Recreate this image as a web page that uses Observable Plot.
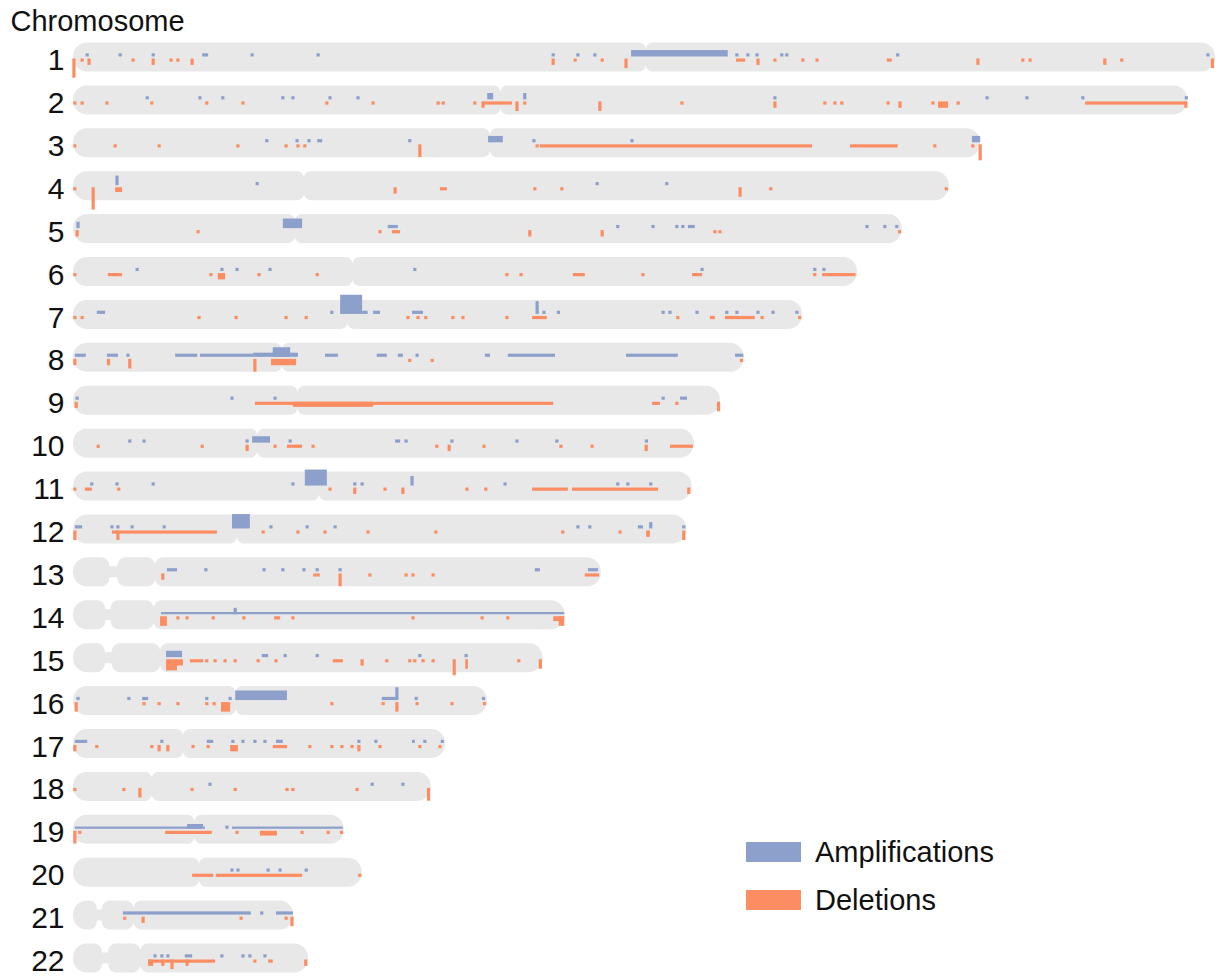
<!DOCTYPE html>
<html>
<head>
<meta charset="utf-8">
<script src="https://cdn.jsdelivr.net/npm/d3@7"></script>
<script src="https://cdn.jsdelivr.net/npm/@observablehq/plot@0.6"></script>
<style>
  body { margin: 0; background: #fff; }
  #wrap { position: relative; width: 1225px; height: 977px; font-family: "Liberation Sans", Arial, sans-serif; }
  #legend { position: absolute; left: 746px; top: 842px; font-size: 29px; color: #111; }
  .item { display: flex; align-items: center; height: 20px; margin-bottom: 28px; }
  .sw { width: 55px; height: 20px; margin-right: 14px; }
</style>
</head>
<body>
<div id="wrap"></div>
<script>
// ---- chromosome layout (Mb) ----
const chromNames = ["1","2","3","4","5","6","7","8","9","10","11","12","13","14","15","16","17","18","19","20","21","22"];
const chromLengths = [249.25,243.2,198.0,191.15,180.9,171.1,159.1,146.4,141.2,135.5,135.0,133.85,115.2,107.3,102.5,90.35,81.2,78.1,59.1,63.0,48.1,51.3];
const centromeres = [125.0,93.3,91.0,50.4,48.4,61.0,59.9,45.6,49.0,40.2,53.7,35.8,17.9,17.6,19.0,35.5,24.0,17.2,26.5,27.5,13.2,14.7];
// p-arm stalk of acrocentric chromosomes [start, end] in Mb
const stalks = [null,null,null,null,null,null,null,null,null,null,null,null,[7.9,9.7],[7.0,8.2],[6.9,8.5],null,null,null,null,null,[5.2,6.3],[6.3,7.7]];

// ---- amplifications: focal [chromosome, position Mb, level] ----
const ampFocal = [
  [1,3.1,1],[1,10.3,1],[1,17.5,1],[1,39.1,1],[1,53.5,1],[1,104.8,1],[1,110.2,1],[1,113.9,1],[1,144.9,1],[1,147.3,1],[1,149.3,1],[1,154.7,1],[1,155.8,1],[1,180.0,1],[1,247.7,1],
  [2,16.2,1],[2,27.7,1],[2,32.7,1],[2,45.8,1],[2,48.0,1],[2,56.1,1],[2,62.2,1],[2,98.6,2],[2,153.2,1],[2,199.5,1],[2,208.2,1],[2,220.4,1],[2,243.0,1],
  [3,42.3,1],[3,48.9,1],[3,51.5,1],[3,73.5,1],[3,100.6,1],[3,122.0,1],
  [4,9.6,3],[4,40.2,1],[4,114.4,1],[4,129.6,1],
  [5,1.1,2],[5,118.9,1],[5,126.6,1],[5,131.8,1],[5,133.1,1],[5,173.3,1],[5,177.2,1],[5,179.8,1],
  [6,14.0,1],[6,32.5,1],[6,35.8,1],[6,43.0,1],[6,74.6,1],[6,137.3,1],[6,161.9,1],[6,163.9,1],
  [7,56.5,1],[7,101.3,4],[7,102.8,1],[7,128.8,1],[7,130.3,1],[7,136.2,1],[7,142.7,1],[7,144.9,1],[7,149.5,1],[7,152.8,1],[7,158.0,1],
  [8,12.0,1],[8,75.1,1],
  [9,0.9,1],[9,34.7,1],[9,44.1,1],[9,128.8,1],
  [10,12.4,1],[10,15.5,1],[10,38.0,1],[10,47.4,1],[10,72.7,1],[10,82.7,1],[10,96.9,1],[10,105.6,1],
  [11,4.1,1],[11,9.6,1],[11,17.5,1],[11,48.0,1],[11,61.5,1],[11,63.1,1],[11,74.0,3],[11,94.3,1],[11,118.9,1],[11,121.1,1],[11,126.1,1],
  [12,8.5,1],[12,9.8,1],[12,12.9,1],[12,19.9,1],[12,43.2,1],[12,51.1,1],[12,57.2,1],[12,110.2,1],[12,112.8,1],[12,126.1,2],[12,133.3,1],
  [13,29.0,1],[13,41.7,1],[13,45.8,1],[13,50.4,1],[13,53.3,1],[13,58.3,1],
  [14,35.4,2],
  [15,46.3,1],[15,53.3,1],[15,75.7,1],[15,85.8,1],
  [16,1.1,1],[16,12.2,1],[16,29.2,1],[16,34.3,1],[16,70.7,4],[16,74.9,1],[16,89.6,1],
  [17,19.4,1],[17,34.9,1],[17,37.1,1],[17,39.7,1],[17,41.9,1],[17,62.4,1],[17,66.1,1],[17,76.8,1],[17,80.6,1],
  [18,29.9,1],[18,65.3,1],[18,72.0,1],
  [19,33.6,1],
  [20,34.7,1],[20,36.0,1],[20,42.6,1],[20,45.2,1],[20,50.9,1],
  [21,41.2,1],
  [22,17.9,1],[22,19.4,1],[22,20.7,1],[22,32.5,1],[22,37.1,1],[22,38.6,1],[22,41.9,1]
];
// ---- amplifications: segments [chromosome, start Mb, end Mb, level] ----
const ampSegments = [
  [1,28.2,29.5,1],[1,121.8,142.9,2],
  [2,90.4,91.7,2],
  [3,53.3,54.4,1],[3,90.6,93.8,2],[3,196.2,198.0,2],
  [5,45.8,50.0,3],[5,68.7,70.9,1],[5,134.2,135.7,1],
  [7,5.2,7.0,1],[7,58.3,63.1,6],[7,63.1,64.3,1],[7,65.5,67.0,1],[7,74.0,76.4,1],[7,105.6,106.3,1],
  [8,0.4,2.8,1],[8,7.4,9.8,1],[8,22.3,27.1,1],[8,27.7,39.3,1],[8,39.3,49.1,1.3],[8,43.6,47.4,3],[8,55.0,57.8,1],[8,66.3,68.5,1],[8,70.9,72.0,1],[8,89.9,91.0,1],[8,94.9,105.2,1],[8,120.7,132.0,1],[8,144.5,146.3,1],
  [9,132.5,134.0,1],
  [10,39.1,43.0,2],[10,70.3,71.4,1],[10,124.8,125.5,1],
  [11,50.6,55.4,5],
  [12,0.4,2.0,1],[12,34.7,38.6,4.5],[12,123.3,124.4,1],
  [13,20.5,22.7,1],[13,100.8,101.9,1],[13,112.4,114.6,1],
  [14,19.2,107.2,0.7],
  [15,20.3,23.8,2],[15,41.2,42.6,1],
  [16,15.1,16.4,1],[16,35.4,46.7,3],[16,67.4,70.7,1],
  [17,0.4,3.1,1],[17,29.2,30.6,1],[17,44.3,45.8,1],[17,74.0,74.6,1],
  [19,0.4,28.8,0.7],[19,24.9,28.4,1.5],[19,34.7,58.9,0.7],
  [21,10.9,38.8,1],[21,44.3,48.0,1],
  [22,24.4,26.0,1]
];
// ---- deletions: focal [chromosome, position Mb, level] ----
const delFocal = [
  [1,0.2,6],[1,2.0,1],[1,3.5,2],[1,13.1,1],[1,17.5,2],[1,21.4,1],[1,22.9,1],[1,26.0,2],[1,104.8,2],[1,109.6,1],[1,115.5,1],[1,120.7,3],[1,149.5,2],[1,153.2,1],[1,159.3,1],[1,162.4,1],[1,197.5,2],[1,207.3,1],[1,208.9,1],[1,225.2,2],[1,228.9,1],[1,248.7,3],
  [2,0.4,1],[2,2.0,1],[2,7.4,1],[2,17.2,1],[2,29.2,1],[2,37.1,1],[2,55.4,1],[2,65.5,1],[2,79.7,1],[2,80.8,1],[2,87.7,1],[2,89.5,2],[2,96.9,3],[2,98.6,1],[2,115.0,3],[2,132.9,1],[2,153.2,2],[2,164.1,1],[2,166.3,1],[2,167.8,1],[2,177.9,1],[2,180.5,2],[2,187.7,1],[2,193.2,1],[2,242.9,2],
  [3,0.4,1],[3,9.2,1],[3,18.8,1],[3,36.0,1],[3,46.5,1],[3,49.1,1],[3,50.6,1],[3,75.7,4],[3,101.3,1],[3,188.1,1],[3,196.4,1],[3,198.0,5],
  [4,0.4,1],[4,4.4,7],[4,70.3,2],[4,100.8,1],[4,106.7,1],[4,145.6,3],[4,152.3,1],[4,190.6,1],
  [5,0.9,2],[5,27.3,1],[5,67.0,1],[5,99.7,2],[5,115.5,2],[5,140.1,1],[5,141.2,1],[5,180.4,1],
  [6,0.4,1],[6,30.1,1],[6,40.6,1],[6,53.3,1],[6,94.7,1],[6,97.8,1],[6,124.4,1],[6,161.9,1],
  [7,0.4,1],[7,2.0,1],[7,27.5,1],[7,35.6,1],[7,46.5,1],[7,50.9,1],[7,73.1,1],[7,75.3,1],[7,77.0,1],[7,82.9,1],[7,85.1,1],[7,94.7,1],[7,132.0,1],[7,150.4,1],[7,158.6,1],
  [8,0.4,2],[8,12.4,3],[8,39.7,4],[8,73.5,1],[8,78.4,1],[8,145.9,1],
  [9,0.7,2],[9,131.8,1],[9,140.9,3],
  [10,5.5,1],[10,28.2,1],[10,38.0,2],[10,44.1,1],[10,52.4,1],[10,79.4,1],[10,82.1,2],[10,89.7,1],[10,106.5,1],[10,113.3,1],[10,125.1,2],
  [11,0.4,1],[11,10.0,1],[11,56.1,1],[11,61.5,2],[11,68.1,1],[11,72.0,2],[11,86.0,1],[11,90.1,1],[11,134.4,2],
  [12,0.4,3],[12,9.8,3],[12,41.5,1],[12,49.1,1],[12,55.0,1],[12,64.4,1],[12,79.2,1],[12,106.9,1],[12,119.4,1],[12,133.3,3],
  [13,19.6,2],[13,52.8,1],[13,53.5,1],[13,58.3,4],[13,64.8,1],[13,72.7,1],[13,74.2,1],[13,78.6,1],
  [14,22.9,1],[14,24.9,1],[14,30.6,1],[14,37.3,1],[14,48.0,1],[14,74.2,1],[14,89.3,1],[14,94.9,1],
  [15,29.2,1],[15,31.0,1],[15,33.2,1],[15,35.4,1],[15,40.4,1],[15,44.3,1],[15,63.1,2],[15,68.5,1],[15,73.5,1],[15,74.6,1],[15,76.4,1],[15,78.6,1],[15,83.2,5],[15,97.3,1],[15,102.0,3],
  [16,0.7,3],[16,15.5,1],[16,18.8,1],[16,22.9,1],[16,29.2,1],[16,30.8,1],[16,56.5,1],[16,67.7,1],[16,70.7,3],[16,75.1,1],[16,82.7,1],[16,89.8,1],
  [17,0.4,2],[17,5.2,1],[17,17.2,1],[17,18.8,2],[17,20.7,2],[17,26.2,1],[17,29.5,1],[17,51.7,1],[17,56.5,1],[17,58.7,1],[17,60.9,1],[17,62.4,2],[17,67.0,1],[17,75.7,1],[17,80.1,1],
  [18,0.4,1],[18,11.1,1],[18,14.6,3],[18,26.0,1],[18,35.4,1],[18,46.7,1],[18,48.0,1],[18,62.0,1],[18,77.6,4],
  [19,0.4,4],[19,1.5,1],[19,35.8,1],[19,50.0,1],[19,55.7,1],[19,58.6,1],
  [20,62.6,1],
  [21,11.3,1],[21,15.3,2],[21,36.7,1],[21,46.5,1],[21,47.8,3],
  [22,19.6,2],[22,21.6,3],[22,24.9,2],[22,39.7,1],[22,50.8,2]
];
// ---- deletions: segments [chromosome, start Mb, end Mb, level] ----
const delSegments = [
  [1,144.7,146.7,1],[1,177.6,178.7,1],
  [2,89.5,95.8,1],[2,188.8,191.0,2],[2,220.9,243.0,1],
  [3,101.9,161.3,1],[3,169.6,180.0,1],
  [4,9.2,10.7,1.5],[4,80.1,81.6,1],
  [5,69.6,71.4,1],
  [6,7.6,10.7,1],[6,31.6,33.2,2],[6,109.1,111.7,1],[6,135.1,137.3,1],[6,163.5,170.8,1],
  [7,100.2,103.4,1],[7,139.0,140.1,1],[7,142.3,148.8,1],
  [8,7.4,8.1,2],[8,43.2,48.7,2],
  [9,39.7,104.8,1],[9,48.0,65.5,1.6],[9,126.4,128.1,1],
  [10,46.7,50.0,1],[10,130.3,135.3,1],
  [11,2.6,4.1,1],[11,100.2,108.0,1],[11,108.9,127.7,1],
  [12,8.5,31.4,1],[12,125.1,125.9,2],
  [13,111.7,114.8,1],
  [14,19.0,20.5,3],[14,43.9,45.2,1],[14,104.8,107.2,1.5],[14,106.0,107.2,3],
  [15,20.3,22.7,3.5],[15,22.7,24.0,2],[15,25.5,28.4,1],[15,56.7,58.9,1],[15,85.6,86.2,3],
  [16,32.3,34.3,3],
  [17,34.3,36.0,2],[17,43.6,46.7,1],
  [19,20.1,30.3,1],[19,40.8,44.5,1.5],
  [20,26.0,30.6,1],[20,31.2,50.0,1],
  [22,16.4,31.0,1],[22,16.4,17.5,2],[22,42.6,43.6,1]
];

// ---- geometry helpers (derived from the scales below) ----
const X_RANGE = [73, 1215], Y_RANGE = [35.55, 979.45];
const PX_PER_MB = (X_RANGE[1] - X_RANGE[0]) / chromLengths[0];
const PX_PER_ROW = (Y_RANGE[1] - Y_RANGE[0]) / 22;
const HALF_PX = 14.5;      // half height of a chromosome body in px
const END_R = 14, CEN_R = 7, ACRO_R = 8, STALK_DEPTH = 9;

function pieceHalf(xp, a, b, ra, rb) {
  if (xp < a || xp > b) return 0;
  let h = HALF_PX;
  const da = xp - a, db = b - xp;
  if (da < ra) h = Math.min(h, HALF_PX - ra + Math.sqrt(Math.max(0, ra * ra - (ra - da) * (ra - da))));
  if (db < rb) h = Math.min(h, HALF_PX - rb + Math.sqrt(Math.max(0, rb * rb - (rb - db) * (rb - db))));
  return Math.max(0, h);
}

const profile = [];
chromNames.forEach((name, i) => {
  const k = i + 1, len = chromLengths[i] * PX_PER_MB, cen = centromeres[i] * PX_PER_MB, st = stalks[i];
  let pieces, stalkPx = null;
  if (st) {
    const s1 = st[0] * PX_PER_MB, s2 = st[1] * PX_PER_MB;
    stalkPx = [s1 - ACRO_R, s2 + ACRO_R];
    pieces = [[0, s1, END_R, ACRO_R], [s2, cen, ACRO_R, ACRO_R], [cen, len, ACRO_R, END_R]];
  } else {
    pieces = [[0, cen, END_R, CEN_R], [cen, len, CEN_R, END_R]];
  }
  const xs = d3.range(0, len, 0.5).concat([len]);
  for (const xp of xs) {
    let h = 0;
    for (const [a, b, ra, rb] of pieces) h = Math.max(h, pieceHalf(xp, a, b, ra, rb));
    if (stalkPx && xp >= stalkPx[0] && xp <= stalkPx[1]) h = Math.max(h, HALF_PX - STALK_DEPTH);
    profile.push({k, x: xp / PX_PER_MB, lo: k - h / PX_PER_ROW, hi: k + h / PX_PER_ROW});
  }
});

const UNIT = 3.2 / PX_PER_ROW;           // bar height per level
const AMP_BASE = -0.5 / PX_PER_ROW, DEL_BASE = 1.5 / PX_PER_ROW;
const FOCAL_W = 0.7;                      // Mb width of a focal event
const toRect = (base, dir) => ([k, a, b, v]) => ({x1: a, x2: b, y1: k + base, y2: k + base + dir * v * UNIT});
const ampRects = [
  ...ampSegments.map(toRect(AMP_BASE, -1)),
  ...ampFocal.map(([k, p, v]) => toRect(AMP_BASE, -1)([k, p - FOCAL_W / 2, p + FOCAL_W / 2, v]))
];
const delRects = [
  ...delSegments.map(toRect(DEL_BASE, 1)),
  ...delFocal.map(([k, p, v]) => toRect(DEL_BASE, 1)([k, p - FOCAL_W / 2, p + FOCAL_W / 2, v]))
];

const AMP_COLOR = "#8DA0CB", DEL_COLOR = "#FC8D62", CHROM_FILL = "#e8e8e8";

const chart = Plot.plot({
  width: 1225,
  height: 977,
  marginLeft: 73,
  marginRight: 10,
  marginTop: 36,
  marginBottom: 0,
  style: {fontFamily: "'Liberation Sans', Arial, sans-serif", background: "white", color: "#111"},
  x: {domain: [0, chromLengths[0]], range: X_RANGE, axis: null},
  y: {domain: [0.5, 22.5], range: Y_RANGE, axis: null},
  marks: [
    Plot.area(profile, {x1: "x", y1: "lo", y2: "hi", z: "k", fill: CHROM_FILL, curve: "linear"}),
    Plot.rect(ampRects, {x1: "x1", x2: "x2", y1: "y1", y2: "y2", fill: AMP_COLOR}),
    Plot.rect(delRects, {x1: "x1", x2: "x2", y1: "y1", y2: "y2", fill: DEL_COLOR}),
    Plot.axisY({
      anchor: "left",
      ticks: chromNames.map((_, i) => i + 1),
      tickFormat: k => chromNames[k - 1],
      tickSize: 0,
      tickPadding: 9,
      fontSize: 30,
      dy: 3,
      label: null
    }),
    Plot.text(["Chromosome"], {frameAnchor: "top-left", dx: -63, dy: -6, fontSize: 29, textAnchor: "start", lineAnchor: "bottom"})
  ]
});

const wrap = document.getElementById("wrap");
wrap.appendChild(chart);
const legend = document.createElement("div");
legend.id = "legend";
legend.innerHTML = [["Amplifications", AMP_COLOR], ["Deletions", DEL_COLOR]]
  .map(([label, color]) => `<div class="item"><div class="sw" style="background:${color}"></div><span>${label}</span></div>`).join("");
wrap.appendChild(legend);
</script>
</body>
</html>
